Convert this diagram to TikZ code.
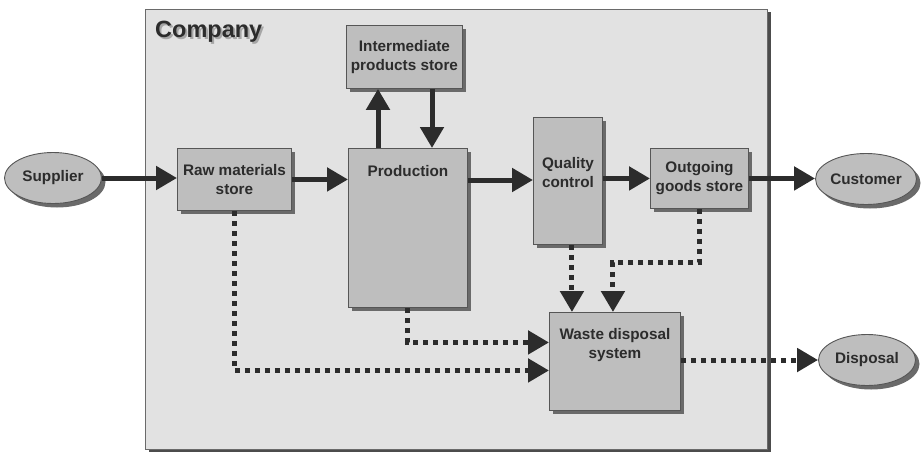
\documentclass[tikz,border=0pt]{standalone}
\usepackage{fontspec}
\setmainfont{Liberation Sans}
\usetikzlibrary{arrows.meta,shapes.geometric,shadows,calc}
\definecolor{bgfill}{HTML}{E2E2E2}
\definecolor{boxfill}{HTML}{BEBEBE}
\definecolor{ink}{HTML}{2C2C2C}
\definecolor{shade}{HTML}{6A6A6A}
\begin{document}
\begin{tikzpicture}[x=1pt,y=-1pt,
  font=\fontsize{15.3}{19}\selectfont\bfseries,
  boxsh/.style={drop shadow={shadow xshift=4pt,shadow yshift=-4pt,fill=shade,opacity=1}},
  unit/.style={draw=ink!80,line width=0.9pt,fill=boxfill,text=ink,align=center,
    inner sep=0pt,anchor=north west,boxsh},
  party/.style={ellipse,draw=ink!80,line width=0.9pt,fill=boxfill,text=ink,
    inner sep=0pt,minimum width=97pt,minimum height=51pt,boxsh},
  flow/.style={draw=ink,line width=5pt,
    -{Triangle[length=21pt,width=23pt]}},
  waste/.style={draw=ink,line width=5pt,dash pattern=on 5pt off 5pt,
    -{Triangle[length=21pt,width=23pt]}}]
\useasboundingbox (0,0) rectangle (921,453);

% company boundary
\node[draw=shade,line width=1pt,fill=bgfill,anchor=north west,inner sep=0pt,
  minimum width=622pt,minimum height=440pt,
  drop shadow={shadow xshift=3pt,shadow yshift=-2pt,fill=ink!85,opacity=1}]
  (company) at (145,9) {};
\node[anchor=north west,inner sep=0pt,text=ink,font=\fontsize{23.5}{27}\selectfont\bfseries]
  (title) at (155,21)
  {\makebox[0pt][l]{\hspace{2pt}\raisebox{-2pt}{\color{gray!70}Company}}Company};

% units inside the company
\node[unit,minimum width=116pt,minimum height=63pt] (inter) at (346,25)
  {Intermediate\\products store};
\node[unit,minimum width=114pt,minimum height=62pt] (raw) at (177,148)
  {Raw materials\\store};
\node[unit,minimum width=119pt,minimum height=159pt,
  label={[anchor=north,text=ink,inner sep=0pt,yshift=-17pt]north:Production}]
  (prod) at (348,148) {};
\node[unit,minimum width=69pt,minimum height=127pt,
  label={[anchor=center,text=ink,align=center,inner sep=0pt,yshift=8pt]center:{Quality\\control}}]
  (qc) at (533,117) {};
\node[unit,minimum width=98pt,minimum height=60pt] (out) at (650,148)
  {Outgoing\\goods store};
\node[unit,minimum width=131pt,minimum height=98pt,
  label={[anchor=north,text=ink,align=center,inner sep=0pt,yshift=-16pt]north:{Waste disposal\\system}}]
  (waste) at (549,312) {};

% external parties
\node[party] (sup) at (53,178) {Supplier};
\node[party] (cust) at (866,179) {Customer};
\node[party] (disp) at (867,360) {Disposal};

% material flow
\draw[flow] (sup.east) -- (raw.west |- sup.east);
\draw[flow] (raw.east) -- (raw.east -| prod.west);
\draw[flow] ([xshift=30]prod.north west) -- ([xshift=30]prod.north west |- inter.south);
\draw[flow] ([xshift=84]prod.north west |- inter.south) -- ([xshift=84]prod.north west);
\draw[flow] ([yshift=-32]prod.north east) -- ([yshift=-32]prod.north east -| qc.west);
\draw[flow] (qc.east |- out.west) -- (out.west);
\draw[flow] (out.east) -- (out.east -| cust.west);

% waste flow
\draw[waste] (raw.south) |- ([yshift=-9]waste.west);
\draw[waste] (prod.south) |- ([yshift=19]waste.west);
\draw[waste] ([xshift=4]qc.south) -- ([xshift=4]qc.south |- waste.north);
\draw[waste] (out.south) -- ++(0,54) -| ([xshift=-2]waste.north);
\draw[waste] (disp.west -| waste.east) -- (disp.west);
\end{tikzpicture}
\end{document}
